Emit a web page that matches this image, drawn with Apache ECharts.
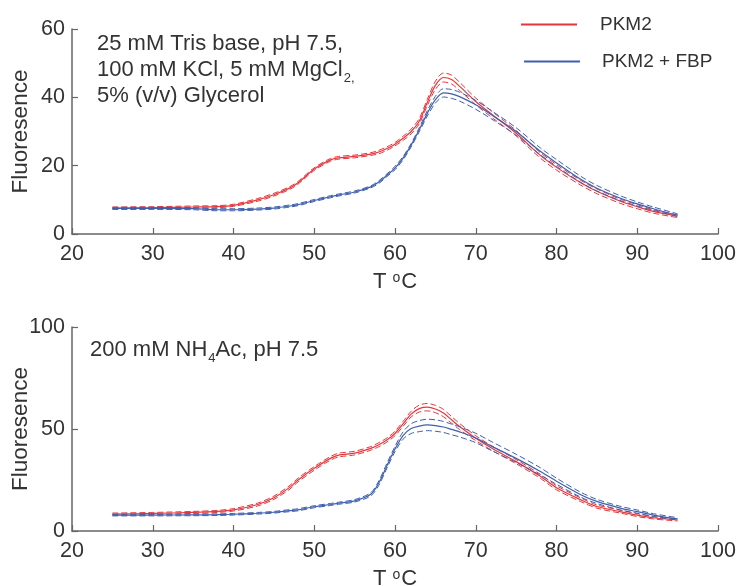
<!DOCTYPE html>
<html>
<head>
<meta charset="utf-8">
<script src="https://cdn.jsdelivr.net/npm/echarts@6/dist/echarts.min.js"></script>
<style>
html,body{margin:0;padding:0;background:#fff;}
#main{width:740px;height:586px;}
</style>
</head>
<body>
<div id="main"></div>
<script>
// temperatures (deg C) sampled along the melt curves
var temps = [25,30,35,38,40,43,45,47,48,50,52,53,55,57,58,59,60,61,62,63,64,65,66,67,68,70,72,75,78,80,83,85,88,90,92,95];

// top panel: Tris buffer
var topRed  = [7.6,7.7,7.9,8.0,8.4,10,11.5,13.5,15,19,21.7,22.3,22.7,23.4,24,25,26.3,28,30,33,38.5,43.5,45.8,45.2,43.2,38.8,35,29.5,23,19.5,15,12.5,9.5,8,6.6,5.2];
var topRedErr = [0.3,0.3,0.3,0.3,0.3,0.4,0.4,0.4,0.4,0.4,0.4,0.4,0.4,0.4,0.5,0.5,0.5,0.6,0.7,0.8,0.9,1.2,1.3,1.3,1.2,1.0,0.9,0.8,0.8,0.8,0.7,0.7,0.6,0.6,0.5,0.4];
var topBlue = [7.5,7.5,7.4,7.1,7.1,7.3,7.6,8.2,8.6,9.8,10.9,11.4,12.3,13.8,15.2,17.2,19.3,22.2,26,30.5,35.3,39.3,41.3,41,40.2,37.8,34.8,30,24.2,20.8,16,13.4,10.4,8.8,7.4,5.5];
var topBlueErr = [0.3,0.3,0.3,0.3,0.3,0.3,0.3,0.3,0.3,0.3,0.3,0.3,0.3,0.3,0.4,0.4,0.5,0.5,0.5,0.6,0.8,1.0,1.2,1.3,1.3,1.3,1.2,1.1,1.0,1.0,0.9,0.8,0.7,0.6,0.5,0.4];

// bottom panel: ammonium acetate
var botRed  = [8.3,8.6,9.1,9.6,10.4,13,16.3,21.5,25,30.7,35.6,37.2,38.2,40.5,42.3,44.6,47.8,52.5,57.3,60,60.7,59.8,57.8,54.5,51.2,45.5,40.6,34,26.8,21.2,15.3,12,9.4,7.8,6.5,5.4];
var botRedErr = [0.5,0.5,0.5,0.5,0.6,0.7,0.8,0.9,0.9,0.9,0.9,0.9,0.9,0.9,1.0,1.0,1.1,1.2,1.4,1.7,1.8,1.8,1.8,1.6,1.5,1.2,1.1,1.0,1.0,1.0,0.9,0.8,0.7,0.7,0.6,0.5];
var botBlue = [7.8,7.8,7.9,8.0,8.2,8.7,9.2,10,10.4,11.9,13,13.6,14.8,18,23.5,32,40.2,46.8,50.2,51.4,52,51.7,51,49.8,48.6,45.6,41.5,35.6,29.2,24.4,17.8,14.5,11.1,9.5,7.8,5.9];
var botBlueErr = [0.4,0.4,0.4,0.4,0.4,0.4,0.4,0.5,0.5,0.5,0.5,0.5,0.6,0.8,1.1,1.2,1.3,1.8,2.4,2.7,2.8,2.8,2.7,2.6,2.5,2.3,2.2,2.0,1.8,1.5,1.2,1.0,0.9,0.8,0.7,0.6];

var red = '#e8353b';
var blue = '#3e5fae';
var axisGrey = '#666666';
var txt = '#333333';
var fontFam = '"Liberation Sans", Arial, sans-serif';

function pts(vals, err, sign)
{
	var out = [];
	for (var i = 0; i < temps.length; i++)
	{
		out.push([temps[i], vals[i] + sign * err[i]]);
	}
	return out;
}

function curveSeries(name, vals, err, color, idx)
{
	var base = {type: 'line', xAxisIndex: idx, yAxisIndex: idx, showSymbol: false, smooth: 0.3, silent: true};
	return [
		Object.assign({}, base, {name: name, data: pts(vals, err, 0), lineStyle: {color: color, width: 1.2}, itemStyle: {color: color}}),
		Object.assign({}, base, {data: pts(vals, err, 1), lineStyle: {color: color, width: 1, type: [6, 3]}}),
		Object.assign({}, base, {data: pts(vals, err, -1), lineStyle: {color: color, width: 1, type: [6, 3]}})
	];
}

function xAx(idx, gap)
{
	return {
		type: 'value', gridIndex: idx, min: 20, max: 100, interval: 10,
		name: '{a|T }{s|o}{a|C}', nameLocation: 'middle', nameGap: gap, nameMoveOverlap: false,
		nameTextStyle: {rich: {
			a: {fontSize: 22, color: txt, fontFamily: fontFam, verticalAlign: 'bottom'},
			s: {fontSize: 14, color: txt, fontFamily: fontFam, verticalAlign: 'top', padding: [0, 1, 0, 0]}
		}},
		axisLine: {lineStyle: {color: axisGrey, width: 1.5}},
		axisTick: {inside: true, length: 6, lineStyle: {color: axisGrey, width: 1.2}},
		axisLabel: {fontSize: 21.5, color: txt, fontFamily: fontFam, margin: 9},
		splitLine: {show: false}
	};
}

function yAx(idx, max, interval)
{
	return {
		type: 'value', gridIndex: idx, min: 0, max: max, interval: interval,
		name: 'Fluoresence', nameLocation: 'middle', nameGap: 40, nameMoveOverlap: false,
		nameTextStyle: {fontSize: 22.5, color: txt, fontFamily: fontFam},
		axisLine: {show: true, lineStyle: {color: axisGrey, width: 1.5}},
		axisTick: {show: true, inside: true, length: 6, lineStyle: {color: axisGrey, width: 1.2}},
		axisLabel: {fontSize: 21.5, color: txt, fontFamily: fontFam, margin: 7},
		splitLine: {show: false}
	};
}

var myChart = echarts.init(document.getElementById('main'));

var series = [].concat(
	curveSeries('PKM2', topRed, topRedErr, red, 0),
	curveSeries('PKM2 + FBP', topBlue, topBlueErr, blue, 0),
	curveSeries('PKM2', botRed, botRedErr, red, 1),
	curveSeries('PKM2 + FBP', botBlue, botBlueErr, blue, 1)
);

var subRich = {
	a: {fontSize: 22, fill: txt, fontFamily: fontFam, verticalAlign: 'bottom'},
	s: {fontSize: 13, fill: txt, fontFamily: fontFam, verticalAlign: 'bottom', padding: [0, 0, -4, 1]}
};

var option = {
	backgroundColor: '#fff',
	animation: false,
	grid: [
		{left: 72, right: 22, top: 29, height: 205, outerBoundsMode: 'none'},
		{left: 72, right: 22, top: 327, height: 204, outerBoundsMode: 'none'}
	],
	xAxis: [xAx(0, 37), xAx(1, 37)],
	yAxis: [yAx(0, 60, 20), yAx(1, 100, 50)],
	legend: [
		{data: ['PKM2'], left: 516, top: 10, itemWidth: 56, itemHeight: 2, icon: 'rect', selectedMode: false,
			textStyle: {fontSize: 19, color: txt, fontFamily: fontFam, padding: [0, 0, 0, 18]}},
		{data: ['PKM2 + FBP'], left: 519, top: 47, itemWidth: 56, itemHeight: 2, icon: 'rect', selectedMode: false,
			textStyle: {fontSize: 19, color: txt, fontFamily: fontFam, padding: [0, 0, 0, 17]}}
	],
	graphic: [
		{type: 'text', left: 97, top: 33, style: {text: '25 mM Tris base, pH 7.5,', fontSize: 22, fill: txt, fontFamily: fontFam}},
		{type: 'text', left: 97, top: 59, style: {text: '{a|100 mM KCl, 5 mM MgCl}{s|2,}', rich: subRich}},
		{type: 'text', left: 97, top: 85, style: {text: '5% (v/v) Glycerol', fontSize: 22, fill: txt, fontFamily: fontFam}},
		{type: 'text', left: 90, top: 339, style: {text: '{a|200 mM NH}{s|4}{a|Ac, pH 7.5}', rich: subRich}}
	],
	series: series
};

myChart.setOption(option);
</script>
</body>
</html>
